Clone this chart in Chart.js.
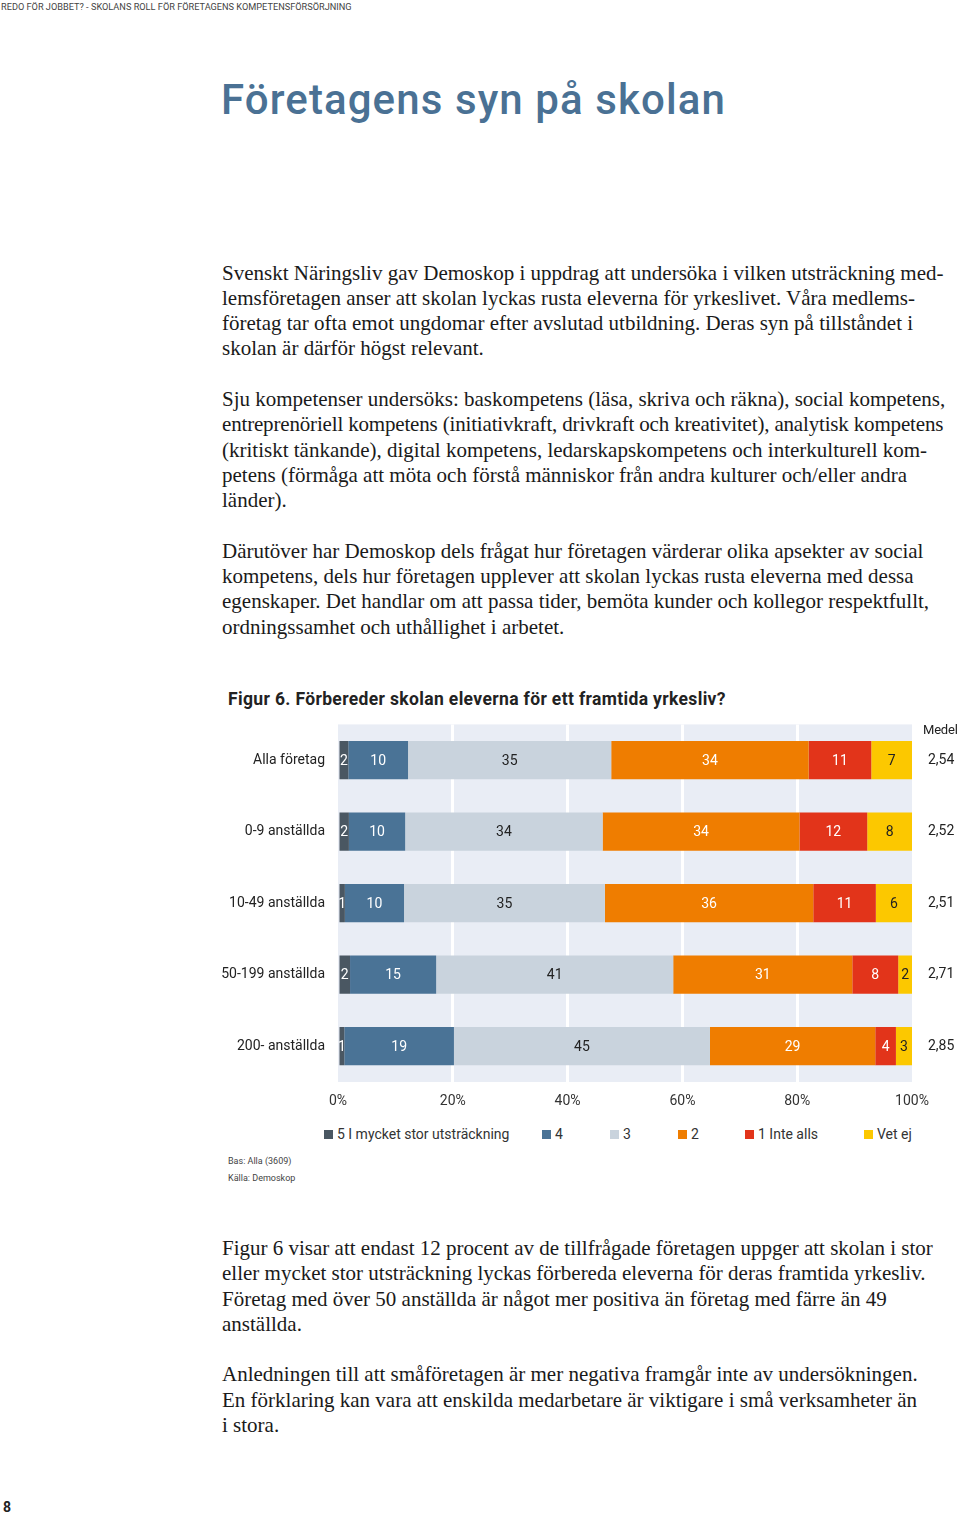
<!DOCTYPE html>
<html lang="sv">
<head>
<meta charset="utf-8">
<script src="https://cdn.jsdelivr.net/npm/chart.js@4.4.0/dist/chart.umd.min.js"></script>
<style>
  body { margin: 0; background: #fff; }
  #page { position: relative; width: 960px; height: 1515px; overflow: hidden; font-family: Roboto, sans-serif; color: #222; }
  .hdr { position: absolute; left: 1px; top: 1px; font-size: 9.2px; color: #444; white-space: nowrap; }
  h1 { position: absolute; left: 221px; top: 79px; margin: 0; font-size: 42px; line-height: 42px; letter-spacing: 1.1px; font-weight: 500; color: #4a7194; white-space: nowrap; }
  .txt { position: absolute; left: 222px; font-family: "Liberation Serif", serif; font-size: 21px; line-height: 25.3px; color: #1a1a1a; white-space: nowrap; }
  .txt p { margin: 0 0 25.3px 0; }
  .tight { letter-spacing: -0.17px; }
  .figtitle { position: absolute; left: 228px; top: 688px; font-size: 17.5px; line-height: 22px; letter-spacing: 0.35px; font-weight: 700; color: #222; white-space: nowrap; }
  #chartBox { position: absolute; left: 220px; top: 700px; width: 740px; height: 410px; }
  .medel { position: absolute; left: 923px; top: 722px; font-size: 13px; letter-spacing: -0.2px; color: #222; }
  #legend { position: absolute; left: 0; top: 1125px; width: 960px; height: 20px; font-size: 14px; color: #333; }
  #legend .item { position: absolute; top: 0; white-space: nowrap; line-height: 18px; }
  #legend .box { display: inline-block; width: 9px; height: 9px; margin-right: 4px; vertical-align: 0px; }
  .note { position: absolute; left: 228px; font-size: 9px; color: #444; }
  .pnum { position: absolute; left: 3px; top: 1499px; font-size: 14px; font-weight: 700; color: #222; }
</style>
</head>
<body>
<div id="page">
  <div class="hdr">REDO FÖR JOBBET? - SKOLANS ROLL FÖR FÖRETAGENS KOMPETENSFÖRSÖRJNING</div>
  <h1>Företagens syn på skolan</h1>

  <div class="txt" style="top:260.5px">
    <p>Svenskt Näringsliv gav Demoskop i uppdrag att undersöka i vilken utsträckning med-<br>lemsföretagen anser att skolan lyckas rusta eleverna för yrkeslivet. Våra medlems-<br>företag tar ofta emot ungdomar efter avslutad utbildning. Deras syn på tillståndet i<br>skolan är därför högst relevant.</p>
    <p>Sju kompetenser undersöks: baskompetens (läsa, skriva och räkna), social kompetens,<br><span class="tight">entreprenöriell kompetens (initiativkraft, drivkraft och kreativitet), analytisk kompetens</span><br>(kritiskt tänkande), digital kompetens, ledarskapskompetens och interkulturell kom-<br>petens (förmåga att möta och förstå människor från andra kulturer och/eller andra<br>länder).</p>
    <p>Därutöver har Demoskop dels frågat hur företagen värderar olika apsekter av social<br>kompetens, dels hur företagen upplever att skolan lyckas rusta eleverna med dessa<br>egenskaper. Det handlar om att passa tider, bemöta kunder och kollegor respektfullt,<br>ordningssamhet och uthållighet i arbetet.</p>
  </div>

  <div class="figtitle">Figur 6. Förbereder skolan eleverna för ett framtida yrkesliv?</div>
  <div id="chartBox"><canvas id="myChart"></canvas></div>
  <div class="medel">Medel</div>
  <div id="legend"></div>
  <div class="note" style="top:1156px">Bas: Alla (3609)</div>
  <div class="note" style="top:1173px">Källa: Demoskop</div>

  <div class="txt" style="top:1236px">
    <p>Figur 6 visar att endast 12 procent av de tillfrågade företagen uppger att skolan i stor<br>eller mycket stor utsträckning lyckas förbereda eleverna för deras framtida yrkesliv.<br>Företag med över 50 anställda är något mer positiva än företag med färre än 49<br>anställda.</p>
    <p>Anledningen till att småföretagen är mer negativa framgår inte av undersökningen.<br>En förklaring kan vara att enskilda medarbetare är viktigare i små verksamheter än<br>i stora.</p>
  </div>

  <div class="pnum">8</div>
</div>

<script>
// Kategorier och värden (procent per grupp)
const categories = ["Alla företag", "0-9 anställda", "10-49 anställda", "50-199 anställda", "200- anställda"];
const medel = [2.54, 2.52, 2.51, 2.71, 2.85];
const seriesNames = ["5 I mycket stor utsträckning", "4", "3", "2", "1 Inte alls", "Vet ej"];
const s5 = [1.8, 1.9, 1.2, 2.1, 1.1];
const s4 = [10.4, 9.8, 10.3, 15.0, 19.1];
const s3 = [35.4, 34.4, 35.0, 41.3, 44.6];
const s2 = [34.4, 34.3, 36.3, 31.2, 28.8];
const s1 = [10.9, 11.8, 10.9, 8.0, 3.6];
const vetEj = [7.1, 7.8, 6.3, 2.4, 2.8];
const xTicks = [0, 20, 40, 60, 80, 100];

// Stil
const colors = ["#4a5762", "#4a7396", "#c9d3dd", "#ef7d00", "#e2341a", "#fcc800"];
const labelColors = ["#fff", "#fff", "#222", "#fff", "#fff", "#222"];
const legendLeft = [324, 542, 610, 678, 745, 864];

const allSeries = [s5, s4, s3, s2, s1, vetEj];

// Bakgrund bakom staplarna
const plotBg = {
  id: "plotBg",
  beforeDraw(chart) {
    const { ctx, chartArea: a } = chart;
    ctx.save();
    ctx.fillStyle = "#e9edf5";
    ctx.fillRect(a.left, a.top, a.right - a.left, a.bottom - a.top);
    ctx.restore();
  },
};

// Siffror i varje segment
const segmentLabels = {
  id: "segmentLabels",
  afterDatasetsDraw(chart) {
    const ctx = chart.ctx;
    ctx.save();
    ctx.font = "14px Roboto";
    ctx.textAlign = "center";
    ctx.textBaseline = "middle";
    chart.data.datasets.forEach((ds, i) => {
      chart.getDatasetMeta(i).data.forEach((bar, j) => {
        ctx.fillStyle = labelColors[i];
        ctx.fillText(String(Math.round(ds.data[j])), (bar.x + bar.base) / 2, bar.y + 1);
      });
    });
    ctx.restore();
  },
};

function generateChart() {
  const ctx = document.getElementById("myChart").getContext("2d");
  new Chart(ctx, {
    type: "bar",
    data: {
      labels: categories,
      datasets: allSeries.map((values, i) => ({
        label: seriesNames[i],
        data: values,
        backgroundColor: colors[i],
        borderWidth: 0,
        barPercentage: 1,
        categoryPercentage: 0.535,
      })),
    },
    options: {
      indexAxis: "y",
      responsive: true,
      maintainAspectRatio: false,
      animation: false,
      layout: { padding: { top: 10, left: 0, right: 0, bottom: 0 } },
      scales: {
        x: {
          stacked: true,
          min: 0,
          max: 100,
          afterBuildTicks: (s) => { s.ticks = xTicks.map((v) => ({ value: v })); },
          ticks: { callback: (v) => v + "%", padding: 11, color: "#333", font: { family: "Roboto", size: 14 } },
          grid: {
            color: (c) => (c.tick && c.tick.value > 0 && c.tick.value < 100 ? "#ffffff" : "rgba(0,0,0,0)"),
            lineWidth: 3,
            drawTicks: false,
          },
          border: { display: false },
          afterFit: (s) => { s.height = 28; },
        },
        y: {
          stacked: true,
          grid: { display: false, drawTicks: false },
          border: { display: false },
          ticks: { padding: 13, color: "#222", font: { family: "Roboto", size: 14 } },
          afterFit: (s) => { s.width = 118; },
        },
        y2: {
          type: "category",
          labels: medel.map((v) => v.toFixed(2).replace(".", ",")),
          position: "right",
          offset: true,
          grid: { display: false, drawTicks: false },
          border: { display: false },
          ticks: { padding: 16, color: "#222", font: { family: "Roboto", size: 14 } },
          afterFit: (s) => { s.width = 48; },
        },
      },
      plugins: {
        legend: { display: false },
        tooltip: { enabled: false },
      },
    },
    plugins: [plotBg, segmentLabels],
  });
}

// Förklaring under diagrammet
function buildLegend() {
  const el = document.getElementById("legend");
  seriesNames.forEach((name, i) => {
    const item = document.createElement("div");
    item.className = "item";
    item.style.left = legendLeft[i] + "px";
    item.innerHTML = '<span class="box" style="background:' + colors[i] + '"></span>' + name;
    el.appendChild(item);
  });
}

generateChart();
buildLegend();
</script>
</body>
</html>
